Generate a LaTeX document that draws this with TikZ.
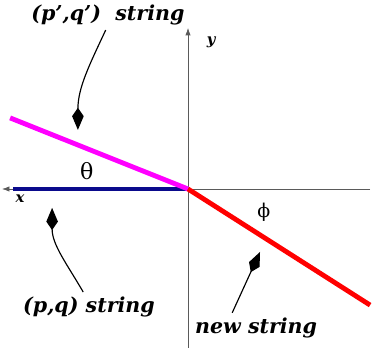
\documentclass[tikz,border=0pt]{standalone}
\usepackage{fontspec}
\newfontfamily\labelfont{DejaVu Serif}
\usetikzlibrary{arrows.meta, positioning}
\definecolor{stringBlue}{RGB}{10,10,140}
\definecolor{stringMagenta}{RGB}{255,0,255}
\definecolor{stringRed}{RGB}{255,0,0}
\definecolor{axisGray}{RGB}{90,90,90}

\begin{document}
\begin{tikzpicture}[
  axis/.style={draw=axisGray, line width=0.7pt},
  strg/.style={line width=4.6pt, draw=#1},
  lbl/.style={font=\labelfont\bfseries\itshape\fontsize{19.5}{22}\selectfont, inner sep=0pt},
  axlbl/.style={font=\labelfont\bfseries\itshape\fontsize{14}{16}\selectfont, inner sep=0pt},
  ang/.style={font=\labelfont\fontsize{21}{24}\selectfont, inner sep=0pt},
  pointer/.style={-{Kite[length=21pt, width=11pt, inset=8pt]}, line width=1.1pt}
]
  \useasboundingbox (-6.267,-5.3) rectangle (6.2,6.3);

  \coordinate (O)    at (0,0);
  \coordinate (xend) at (-6.2,0);
  \coordinate (xfar) at (6.07,0);
  \coordinate (ytop) at (0,5.37);
  \coordinate (ybot) at (0,-5.3);

  % axes
  \draw[axis, -{Latex[length=7pt, width=5pt]}] (xfar) -- (xend);
  \draw[axis, -{Latex[length=7pt, width=5pt]}] (ybot) -- (ytop);
  \node[axlbl] (xl) at (-5.6,-0.33) {x};
  \node[axlbl] (yl) at (0.77,4.9) {y};

  % strings
  \coordinate (pqEnd)  at (-5.83,0);
  \coordinate (pqpEnd) at (-5.93,2.37);
  \coordinate (newEnd) at (6.07,-3.87);
  \draw[strg=stringBlue]    (pqEnd) -- (O);
  \draw[strg=stringMagenta] (pqpEnd) -- (O);
  \draw[strg=stringRed]     (O) -- (newEnd);

  \node[ang] (theta) at (-3.37,0.6) {θ};
  \node[ang, font=\labelfont\fontsize{18}{20}\selectfont] (phi) at (2.53,-0.77) {ϕ};

  % labels and pointers
  \node[lbl] (pqp) at (-2.67,5.8)  {(p’,q’)\ \ string};
  \node[lbl] (pq)  at (-3.3,-3.93) {(p,q) string};
  \node[lbl] (ns)  at (2.27,-4.63) {new string};

  \coordinate (tipA) at (-3.67,1.97);
  \coordinate (tipB) at (-4.53,-0.63);
  \coordinate (tipC) at (2.4,-2.1);

  \draw[pointer, shorten <=5pt] (pqp.south) to[out=-115, in=90] (tipA);
  \draw[pointer, shorten <=5pt] ([xshift=-3pt]pq.north) to[out=120, in=-90] (tipB);
  \draw[pointer, shorten <=5pt] ([xshift=-0.87cm]ns.north) -- (tipC);
\end{tikzpicture}
\end{document}
